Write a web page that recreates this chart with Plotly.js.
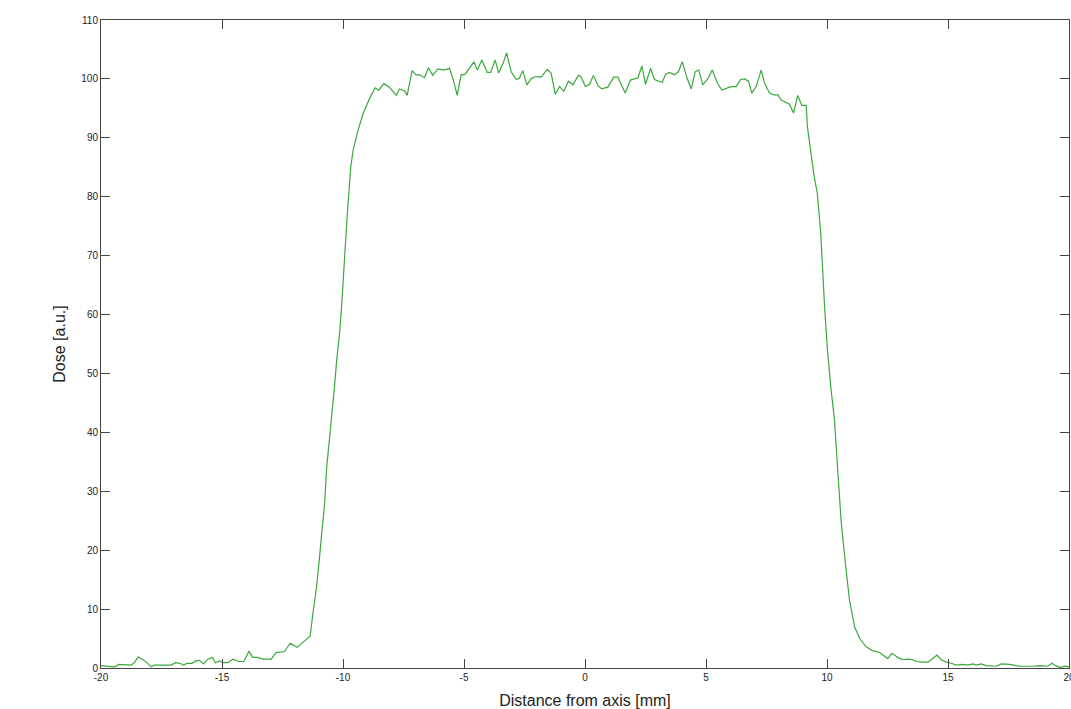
<!DOCTYPE html>
<html>
<head>
<meta charset="utf-8">
<script src="https://cdn.plot.ly/plotly-3.0.1.min.js"></script>
<style>html,body{margin:0;padding:0;background:#fff;overflow:hidden;}#chart{width:1071px;height:709px;}</style>
</head>
<body>
<div id="chart"></div>
<script>
const distance = [
-20.00,-19.79,-19.44,-19.26,-19.07,-18.95,-18.75,-18.62,-18.46,-18.27,-18.13,-17.93,-17.79,-17.45,-17.10,-16.92,-16.75,-16.58,-16.44,-16.24,-16.07,-15.93,-15.76,-15.59,-15.40,-15.27,-15.10,-14.96,-14.76,-14.55,-14.31,-14.10,-13.89,-13.73,-13.52,-13.31,-12.97,-12.76,-12.42,-12.18,-11.89,-11.59,-11.36,-11.22,-11.10,-11.00,-10.90,-10.76,-10.67,-10.56,-10.46,-10.35,-10.26,-10.14,-10.05,-9.98,-9.91,-9.83,-9.76,-9.68,-9.58,-9.39,-9.18,-8.90,-8.67,-8.52,-8.31,-8.08,-7.80,-7.67,-7.46,-7.35,-7.14,-6.98,-6.84,-6.63,-6.47,-6.29,-6.08,-5.83,-5.60,-5.46,-5.28,-5.12,-4.95,-4.70,-4.59,-4.45,-4.26,-4.04,-3.90,-3.71,-3.57,-3.36,-3.24,-3.05,-2.84,-2.71,-2.57,-2.40,-2.22,-2.02,-1.81,-1.56,-1.40,-1.23,-1.05,-0.88,-0.68,-0.50,-0.27,-0.17,0.02,0.19,0.35,0.53,0.69,0.94,1.19,1.36,1.66,1.88,2.09,2.19,2.35,2.50,2.71,2.87,3.19,3.33,3.49,3.70,3.86,4.02,4.22,4.39,4.55,4.70,4.87,5.07,5.26,5.46,5.65,5.83,6.04,6.25,6.43,6.59,6.76,6.89,7.07,7.28,7.42,7.62,7.80,7.97,8.11,8.31,8.45,8.62,8.79,8.96,9.14,9.19,9.33,9.47,9.60,9.74,9.90,10.03,10.17,10.31,10.45,10.59,10.79,10.93,11.14,11.35,11.62,11.90,12.14,12.38,12.51,12.68,12.93,13.13,13.34,13.54,13.69,13.96,14.17,14.37,14.54,14.72,14.93,15.13,15.34,15.61,15.82,16.03,16.17,16.37,16.58,16.99,17.20,17.54,17.95,18.50,18.78,19.12,19.29,19.45,19.63,19.88,20.00
];
const dose = [
0.4,0.3,0.2,0.6,0.6,0.5,0.5,0.9,1.9,1.4,1.0,0.2,0.5,0.5,0.5,0.9,0.8,0.5,0.8,0.8,1.2,1.3,0.7,1.5,1.8,0.9,1.2,0.9,0.9,1.5,1.1,1.1,2.8,1.8,1.8,1.5,1.5,2.6,2.8,4.2,3.5,4.6,5.4,10.0,13.5,17.5,22.3,28.0,34.2,38.7,43.2,47.8,52.3,56.8,61.9,67.0,72.1,76.6,80.5,85.1,87.9,91.1,94.0,96.7,98.5,98.1,99.2,98.6,97.2,98.3,98.0,97.2,101.4,100.7,100.7,100.2,101.9,100.6,101.7,101.5,101.8,100.1,97.2,100.7,100.8,102.4,102.9,101.5,103.2,101.1,101.1,103.2,101.0,102.9,104.4,101.2,99.9,100.1,101.4,99.0,100.1,100.4,100.3,101.6,101.0,97.4,98.7,97.9,99.6,99.0,100.6,100.4,98.7,99.1,100.6,98.9,98.3,98.6,100.3,100.3,97.6,99.8,100.1,100.2,102.2,99.1,101.8,99.9,99.4,100.8,101.1,100.7,101.2,102.9,100.1,98.3,101.2,101.5,99.0,100.0,101.5,99.4,98.1,98.4,98.7,98.7,99.9,100.0,99.6,97.6,98.7,101.5,99.3,97.6,97.3,97.3,96.4,96.0,95.7,94.2,97.2,95.5,95.5,91.9,87.4,83.4,80.6,73.9,61.3,53.4,47.2,42.1,33.1,24.6,16.6,11.5,7.0,5.0,3.6,2.9,2.7,1.9,1.6,2.5,1.8,1.4,1.5,1.4,1.1,1.0,1.0,1.6,2.2,1.4,1.0,0.8,0.5,0.6,0.5,0.7,0.5,0.7,0.4,0.3,0.7,0.6,0.3,0.3,0.4,0.3,0.8,0.4,0.1,0.3,0.2
];
const xTicks = [-20,-15,-10,-5,0,5,10,15,20];
const yTicks = [0,10,20,30,40,50,60,70,80,90,100,110];
const xLabel = "Distance from axis [mm]";
const yLabel = "Dose [a.u.]";

const axisCommon = {
  showline: true, linecolor: '#444', linewidth: 1, mirror: 'ticks',
  ticks: 'inside', ticklen: 9, tickwidth: 1, tickcolor: '#444',
  showgrid: false, zeroline: false, ticklabeloverflow: 'allow',
  tickfont: {family: 'Liberation Sans, Arial, sans-serif', size: 10, color: '#222'}
};

const trace = {
  x: distance, y: dose, type: 'scatter', mode: 'lines',
  line: {color: 'rgb(58,168,58)', width: 1.2},
  hoverinfo: 'skip'
};

const layout = {
  width: 1071, height: 709,
  margin: {l: 101, r: 2, t: 20, b: 41},
  paper_bgcolor: '#fff', plot_bgcolor: '#fff',
  showlegend: false,
  xaxis: Object.assign({}, axisCommon, {
    range: [-20, 20], tickvals: xTicks, ticktext: xTicks.map(String),
    title: {text: xLabel, standoff: 12, font: {family: 'Liberation Sans, Arial, sans-serif', size: 16, color: '#222'}}
  }),
  yaxis: Object.assign({}, axisCommon, {
    range: [0, 110], tickvals: yTicks, ticktext: yTicks.map(String),
    title: {text: yLabel, standoff: 11, font: {family: 'Liberation Sans, Arial, sans-serif', size: 16, color: '#222'}}
  })
};

Plotly.newPlot('chart', [trace], layout, {displayModeBar: false, staticPlot: true});
</script>
</body>
</html>
